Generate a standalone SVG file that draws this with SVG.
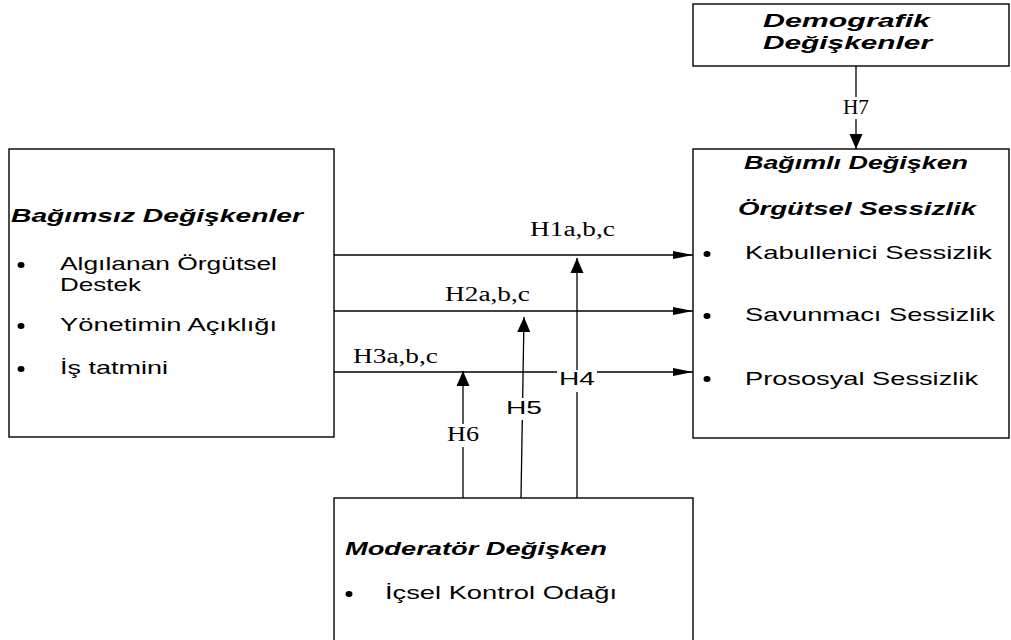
<svg xmlns="http://www.w3.org/2000/svg" width="1011" height="640" viewBox="0 0 1011 640">
  <style>
    .box { fill: #fff; stroke: #000; stroke-width: 1.4; }
    .ln { fill: none; stroke: #000; stroke-width: 1.3; }
    .hd { font-family: "Liberation Sans", Arial, sans-serif; font-weight: bold; font-style: italic; font-size: 19px; fill: #000; }
    .tx { font-family: "Liberation Sans", Arial, sans-serif; font-size: 19px; fill: #000; }
    .lb { font-family: "Liberation Serif", "Times New Roman", serif; font-size: 20px; fill: #000; }
    .ls { font-family: "Liberation Sans", Arial, sans-serif; font-size: 19px; fill: #000; }
    .dot { fill: #000; }
    .bg { fill: #fff; }
  </style>
  <defs>
    <marker id="arrH" markerUnits="userSpaceOnUse" markerWidth="20" markerHeight="10" refX="20" refY="4.5" orient="auto">
      <path d="M0,0.5 L20,4.5 L0,8.5 Z" fill="#000"/>
    </marker>
    <marker id="arrV" markerUnits="userSpaceOnUse" markerWidth="15" markerHeight="14" refX="15" refY="7" orient="auto">
      <path d="M0,0.5 L15,7 L0,13.5 Z" fill="#000"/>
    </marker>
  </defs>

  <!-- connectors -->
  <g id="connectors">
    <line class="ln" x1="334" y1="255" x2="693" y2="255" marker-end="url(#arrH)"/>
    <line class="ln" x1="334" y1="311" x2="693" y2="311" marker-end="url(#arrH)"/>
    <line class="ln" x1="334" y1="372" x2="693" y2="372" marker-end="url(#arrH)"/>
    <line class="ln" x1="577" y1="498" x2="577" y2="258" marker-end="url(#arrV)"/>
    <line class="ln" x1="521" y1="498" x2="524" y2="317" marker-end="url(#arrV)"/>
    <line class="ln" x1="463" y1="498" x2="463" y2="371" marker-end="url(#arrV)"/>
    <line class="ln" x1="856" y1="66" x2="856" y2="149" marker-end="url(#arrV)"/>

    <text class="lb" x="530" y="236" textLength="85" lengthAdjust="spacingAndGlyphs">H1a,b,c</text>
    <text class="lb" x="445" y="301" textLength="85" lengthAdjust="spacingAndGlyphs">H2a,b,c</text>
    <text class="lb" x="353" y="363" textLength="85" lengthAdjust="spacingAndGlyphs">H3a,b,c</text>

    <rect class="bg" x="557" y="370" width="40" height="22"/>
    <text class="ls" x="559" y="385" textLength="36" lengthAdjust="spacingAndGlyphs">H4</text>
    <rect class="bg" x="504" y="398" width="40" height="22"/>
    <text class="ls" x="506" y="414" textLength="36" lengthAdjust="spacingAndGlyphs">H5</text>
    <rect class="bg" x="446" y="424" width="34" height="23"/>
    <text class="lb" x="447" y="441" textLength="32" lengthAdjust="spacingAndGlyphs">H6</text>
    <rect class="bg" x="842" y="97" width="28" height="22"/>
    <text class="lb" x="843" y="114" textLength="26" lengthAdjust="spacingAndGlyphs">H7</text>
  </g>

  <!-- independent variables -->
  <g id="bagimsiz">
    <rect class="box" x="9" y="149" width="325" height="288"/>
    <text class="hd" x="11" y="222" textLength="292" lengthAdjust="spacingAndGlyphs">Bağımsız Değişkenler</text>
    <ellipse class="dot" cx="21" cy="265" rx="3.5" ry="3"/>
    <text class="tx" x="60" y="270" textLength="217" lengthAdjust="spacingAndGlyphs">Algılanan Örgütsel</text>
    <text class="tx" x="60" y="291" textLength="81" lengthAdjust="spacingAndGlyphs">Destek</text>
    <ellipse class="dot" cx="21" cy="326" rx="3.5" ry="3"/>
    <text class="tx" x="60" y="331" textLength="217" lengthAdjust="spacingAndGlyphs">Yönetimin Açıklığı</text>
    <ellipse class="dot" cx="21" cy="369" rx="3.5" ry="3"/>
    <text class="tx" x="60" y="374" textLength="108" lengthAdjust="spacingAndGlyphs">İş tatmini</text>
  </g>

  <!-- dependent variable -->
  <g id="bagimli">
    <rect class="box" x="693" y="149" width="316" height="289"/>
    <text class="hd" x="744" y="169" textLength="224" lengthAdjust="spacingAndGlyphs">Bağımlı Değişken</text>
    <text class="hd" x="738" y="215" textLength="238" lengthAdjust="spacingAndGlyphs">Örgütsel Sessizlik</text>
    <ellipse class="dot" cx="707" cy="254" rx="3.5" ry="3"/>
    <text class="tx" x="745" y="259" textLength="247" lengthAdjust="spacingAndGlyphs">Kabullenici Sessizlik</text>
    <ellipse class="dot" cx="707" cy="316" rx="3.5" ry="3"/>
    <text class="tx" x="745" y="321" textLength="250" lengthAdjust="spacingAndGlyphs">Savunmacı Sessizlik</text>
    <ellipse class="dot" cx="707" cy="379" rx="3.5" ry="3"/>
    <text class="tx" x="745" y="385" textLength="233" lengthAdjust="spacingAndGlyphs">Prososyal Sessizlik</text>
  </g>

  <!-- demographic variables -->
  <g id="demografik">
    <rect class="box" x="693" y="4" width="316" height="62"/>
    <text class="hd" x="763" y="27" textLength="167" lengthAdjust="spacingAndGlyphs">Demografik</text>
    <text class="hd" x="763" y="49" textLength="169" lengthAdjust="spacingAndGlyphs">Değişkenler</text>
  </g>

  <!-- moderator variable -->
  <g id="moderator">
    <rect class="box" x="334" y="498" width="359" height="160"/>
    <text class="hd" x="345" y="555" textLength="262" lengthAdjust="spacingAndGlyphs">Moderatör Değişken</text>
    <ellipse class="dot" cx="349" cy="594" rx="3.5" ry="3"/>
    <text class="tx" x="385" y="599" textLength="232" lengthAdjust="spacingAndGlyphs">İçsel Kontrol Odağı</text>
  </g>
</svg>
